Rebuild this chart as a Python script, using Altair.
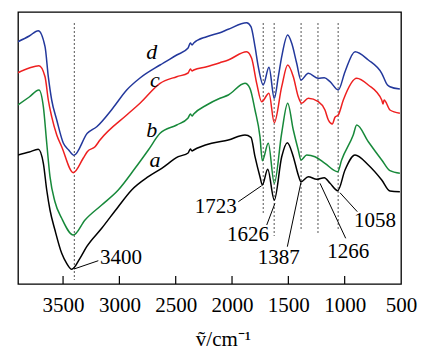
import altair as alt
import pandas as pd

# ---- spectra (wavenumber cm^-1, relative transmittance, arbitrary units) ----
wn_a = [3900, 3800, 3720, 3675, 3645, 3616, 3572, 3512, 3468, 3423, 3350, 3290, 3157, 3010, 2891, 2743, 2624, 2477,
        2390, 2370, 2355, 2340, 2181, 2033, 1885, 1832, 1796, 1752, 1731, 1683, 1625, 1559, 1509, 1456, 1412, 1388,
        1323, 1248, 1181, 1130, 1062, 997, 908, 790, 671, 598, 510]
val_a = [129, 132, 134.7, 120.7, 94, 74, 54, 30.7, 20.7, 14.7, 25.7, 37.3, 55.7, 77.3, 94, 107.3, 115.7, 127.3,
         131, 135, 133, 134, 140.7, 144, 149, 146.7, 127.3, 107.3, 99, 114.7, 84, 127.3, 141.3, 127.3, 109, 102.3,
         107.3, 104.7, 106.3, 100.7, 93.3, 114, 129, 119, 104, 93, 92.3]

wn_b = [3900, 3800, 3714, 3675, 3645, 3616, 3572, 3512, 3409, 3305, 3157, 3010, 2861, 2743, 2639, 2491, 2390, 2370,
        2355, 2340, 2225, 2107, 2033, 1885, 1841, 1796, 1752, 1731, 1678, 1625, 1559, 1506, 1456, 1412, 1388, 1337,
        1264, 1175, 1062, 1027, 924, 893, 790, 671, 598, 510]
val_b = [179, 187, 194, 177.3, 141, 107.3, 82.3, 65.7, 49, 64, 79, 94, 115.7, 134, 150.7, 159, 166, 170,
         168, 170, 179, 185.7, 189, 200.7, 195.7, 174, 147.3, 123.3, 140.7, 100.7, 151, 180.7, 154, 134, 124, 129,
         127.3, 120.7, 112.3, 124, 149, 159, 142.3, 124, 113.3, 110.7]

wn_c = [3900, 3800, 3714, 3660, 3631, 3601, 3556, 3512, 3409, 3320, 3285, 3216, 3172, 2935, 2817, 2639, 2491, 2390,
        2370, 2355, 2340, 2225, 2107, 2033, 1870, 1826, 1781, 1737, 1672, 1625, 1559, 1506, 1456, 1412, 1382, 1323,
        1234, 1175, 1145, 1110, 1086, 1057, 1012, 893, 790, 671, 660, 650, 598, 510]
val_c = [211.3, 216, 218.3, 207.3, 184, 167.3, 149, 137.3, 111.3, 126, 132.3, 137.3, 144, 169, 180.7, 200.7, 207.3, 211,
         215, 213, 214, 217.3, 221.3, 224, 232.3, 225.7, 200.7, 182.3, 190.7, 161.3, 197.3, 219, 207.3, 187.3, 180.7, 185.7,
         182.3, 174, 164, 160, 166.7, 169, 184, 205.7, 199, 184, 180, 184, 174, 170.7]

wn_d = [3900, 3800, 3720, 3660, 3631, 3601, 3556, 3498, 3450, 3403, 3285, 3201, 3057, 2935, 2817, 2639, 2491, 2390,
        2370, 2355, 2340, 2225, 2107, 2033, 1870, 1832, 1796, 1767, 1723, 1672, 1625, 1589, 1559, 1506, 1470, 1426,
        1388, 1323, 1234, 1181, 1130, 1057, 997, 908, 790, 671, 620, 598, 510]
val_d = [242.3, 248, 253.3, 237.3, 207.3, 184, 164, 141, 134, 128.7, 150.7, 157.3, 176, 194, 206, 219, 229, 236,
         241, 239, 241, 247.3, 251.3, 254.7, 261.3, 257.3, 237.3, 217.3, 199, 216.7, 185.7, 207.3, 227.3, 249, 240.7, 220.7,
         204, 210.7, 205.7, 206.3, 202.3, 194, 212.3, 232.3, 224, 210.7, 199, 197.3, 195]

series_names = ["a", "b", "c", "d"]
series_colors = ["#000000", "#17893a", "#ee2020", "#23389c"]

# curve letters
letter_wn = [2684, 2713, 2684, 2713]
letter_val = [124, 154, 204, 232.3]

# marked bands (dashed guides)
band_wn = [3400, 1723, 1626, 1387, 1237, 1058]
band_top = [261, 261, 261, 261, 261, 261]
band_bottom = [4, 71, 48, 53, 51, 53]

# band labels and leader lines
lab_text = ["3400", "1723", "1626", "1387", "1266", "1058"]
lab_wn = [3172, 1959, 1858, 1586, 968, 731]
lab_val = [26, 77, 49, 25.7, 32.3, 63.3]
lab_align = ["left", "right", "center", "center", "center", "center"]
lead_wn1 = [3403, 1944, 1692, 1509, 991, 888]
lead_v1 = [15, 82.3, 59, 37.3, 45.7, 72.3]
lead_wn2 = [3187, 1737, 1619, 1388, 1219, 1042]
lead_v2 = [23.3, 98.3, 80.7, 101.7, 100.7, 91.3]

tick_values = [3500, 3000, 2500, 2000, 1500, 1000, 500]
inner_ticks = [3500, 3000, 2500, 2000, 1500, 1000]
tick_top = [8, 8, 8, 8, 8, 8]

rows = []
for name, wns, vals in zip(series_names, [wn_a, wn_b, wn_c, wn_d], [val_a, val_b, val_c, val_d]):
    for w, v in zip(wns, vals):
        rows.append({"s": name, "wn": w, "v": v})
spec = pd.DataFrame(rows)

letters = pd.DataFrame({"s": series_names, "wn": letter_wn, "v": letter_val})
bands = pd.DataFrame({"wn": band_wn, "top": band_top, "bot": band_bottom})
labels = pd.DataFrame({"t": lab_text, "wn": lab_wn, "v": lab_val, "al": lab_align})
leaders = pd.DataFrame({"w1": lead_wn1, "v1": lead_v1, "w2": lead_wn2, "v2": lead_v2})
ticks = pd.DataFrame({"wn": inner_ticks, "top": tick_top})

FONT = "Liberation Serif, Times New Roman, Times, serif"
W, H = 383, 272
xs = alt.Scale(domain=[500, 3900], reverse=True, nice=False, zero=False)
ys = alt.Scale(domain=[0, 272], nice=False, zero=False)

xaxis = alt.Axis(values=tick_values, format="d", ticks=False, domain=False, grid=False,
                 labelFont=FONT, labelFontSize=21, labelColor="black", labelPadding=10,
                 labelFlush=False, labelOverlap=False,
                 title="ṽ/cm⁻¹", titleFont=FONT, titleFontSize=21, titleFontWeight="normal",
                 titleColor="black", titlePadding=13, titleX=205)

def X(field):
    return alt.X(field, type="quantitative", scale=xs, axis=xaxis)

def Y(field):
    return alt.Y(field, type="quantitative", scale=ys, axis=None)

lines = alt.Chart(spec).mark_line(strokeWidth=1.5, interpolate="monotone", clip=True).encode(
    x=X("wn"),
    y=Y("v"),
    color=alt.Color("s:N", scale=alt.Scale(domain=series_names, range=series_colors), legend=None),
)

guides = alt.Chart(bands).mark_rule(color="#555555", strokeWidth=1, strokeDash=[2, 2]).encode(
    x=X("wn"), y=Y("top"), y2="bot:Q")

lead = alt.Chart(leaders).mark_rule(color="black", strokeWidth=1).encode(
    x=X("w1"), y=Y("v1"), x2="w2:Q", y2="v2:Q")

def lab_layer(al):
    return alt.Chart(labels[labels["al"] == al].reset_index(drop=True)).mark_text(
        font=FONT, fontSize=21, color="black", align=al, baseline="middle").encode(
        x=X("wn"), y=Y("v"), text="t:N")

letter_txt = alt.Chart(letters).mark_text(
    font=FONT, fontSize=22, fontStyle="italic", color="black", align="center", baseline="middle").encode(
    x=X("wn"), y=Y("v"), text="s:N")

tick_marks = alt.Chart(ticks).mark_rule(color="black", strokeWidth=1.2).encode(
    x=X("wn"), y=Y("top"), y2=alt.value(H))

chart = alt.layer(guides, lines, lead, lab_layer("left"), lab_layer("right"), lab_layer("center"),
                  letter_txt, tick_marks).properties(
    width=W, height=H,
    padding={"left": 18, "top": 12, "right": 32, "bottom": 70},
    autosize=alt.AutoSizeParams(type="none"),
    background="white",
).configure_view(stroke="black", strokeWidth=1.3)

chart.save("out.html", embed_options={"renderer": "svg", "actions": False})
